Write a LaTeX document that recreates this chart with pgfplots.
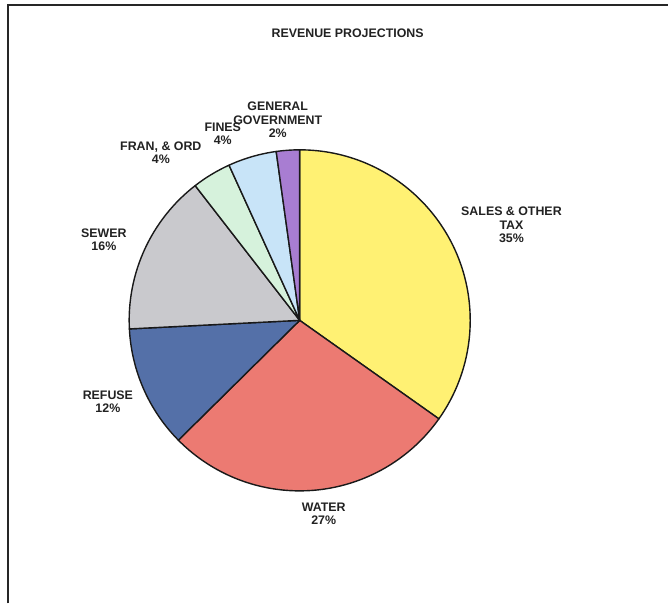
\documentclass[border=0pt]{standalone}
\usepackage{pgfplots}
\pgfplotsset{compat=1.18}
\usepackage{fontspec}
\setmainfont{Liberation Sans}
\definecolor{cSales}{HTML}{FFF173}
\definecolor{cWater}{HTML}{EC7A72}
\definecolor{cRefuse}{HTML}{5470A8}
\definecolor{cSewer}{HTML}{C9C9CD}
\definecolor{cFran}{HTML}{D6F2DC}
\definecolor{cFines}{HTML}{C8E4F8}
\definecolor{cGen}{HTML}{A87DD2}
\definecolor{txt}{HTML}{222222}
% slice: {cumulative start %}{cumulative end %}{colour}
\newcommand{\slice}[3]{%
  \filldraw[fill=#3, draw=black!90, line width=1.4pt, line join=round]
    (axis cs:300,283.3) -- ++({90-3.6*#1}:170.7pt)
    arc[start angle={90-3.6*#1}, end angle={90-3.6*#2}, radius=170.7pt] -- cycle;}
\begin{document}
\begin{tikzpicture}
\begin{axis}[x=1pt, y=1pt, xmin=0, xmax=669, ymin=0, ymax=604,
  hide axis, clip=false, scale only axis]
\path (axis cs:0,0) rectangle (axis cs:669,604);
% shares in percent: Sales 34.8, Water 27.8, Refuse 11.6, Sewer 15.3, Fran 3.7, Fines 4.6, General 2.2
\slice{0}{34.8}{cSales}
\slice{34.8}{62.6}{cWater}
\slice{62.6}{74.2}{cRefuse}
\slice{74.2}{89.5}{cSewer}
\slice{89.5}{93.2}{cFran}
\slice{93.2}{97.8}{cFines}
\slice{97.8}{100}{cGen}
% frame
\draw[line width=1.4pt, color=black!85] (axis cs:8,0) -- (axis cs:8,599) -- (axis cs:669,599);
\begin{scope}[every node/.style={align=center, text=txt, font=\fontsize{12.4}{13.2}\selectfont\bfseries, inner sep=0pt}]
\node at (axis cs:348,571) {REVENUE PROJECTIONS};
\node at (axis cs:512,379) {SALES \& OTHER\\TAX\\35\%};
\node at (axis cs:324,90) {WATER\\27\%};
\node at (axis cs:108,202) {REFUSE\\12\%};
\node at (axis cs:104,364) {SEWER\\16\%};
\node at (axis cs:161,451) {FRAN, \& ORD\\4\%};
\node at (axis cs:223,470) {FINES\\4\%};
\node at (axis cs:278,484) {GENERAL\\GOVERNMENT\\2\%};
\end{scope}
\end{axis}
\end{tikzpicture}
\end{document}
